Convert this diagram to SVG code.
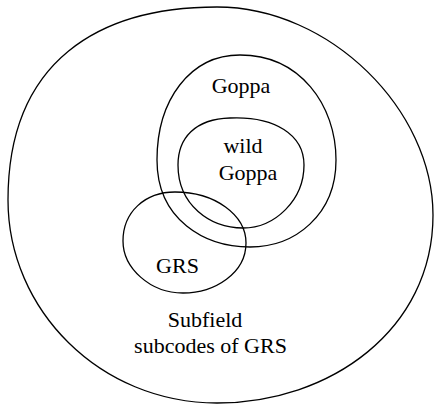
<svg xmlns="http://www.w3.org/2000/svg" width="434" height="404" viewBox="0 0 434 404">
<style>
.s{fill:none;stroke:#000;stroke-width:1.3}
.t{font-family:"Liberation Serif","Times New Roman",serif;font-size:22px;fill:#000;text-anchor:middle}
</style>
<rect width="434" height="404" fill="#fff"/>
<g id="subfield">
<path class="s" d="M 217,7 C 330,7 433,110 433,215 C 433,330 330,403 217,403 C 100,403 8,310 8,200 C 8,60 100,7 217,7 Z"/>
<text class="t" x="205" y="327">Subfield</text>
<text class="t" x="210.5" y="353">subcodes of GRS</text>
</g>
<g id="goppa">
<path class="s" d="M 240,55 C 300,55 336,105 336,160 C 336,215 295,247 250,247 C 205,247 157,220 157,160 C 157,100 190,55 240,55 Z"/>
<text class="t" x="241" y="93">Goppa</text>
</g>
<g id="wild">
<path class="s" d="M 230,118 C 275,116 304,135 304,165 C 304,200 275,228 243,228 C 210,228 178,205 178,165 C 178,138 195,119 230,118 Z"/>
<text class="t" x="243" y="153">wild</text>
<text class="t" x="248" y="180">Goppa</text>
</g>
<g id="grs">
<path class="s" d="M 175,192 C 215,192 246,215 246,243 C 246,273 215,293 183,293 C 150,293 123,268 123,241 C 123,212 145,192 175,192 Z"/>
<text class="t" x="177.5" y="273">GRS</text>
</g>
<g id="connectors"></g>
</svg>
